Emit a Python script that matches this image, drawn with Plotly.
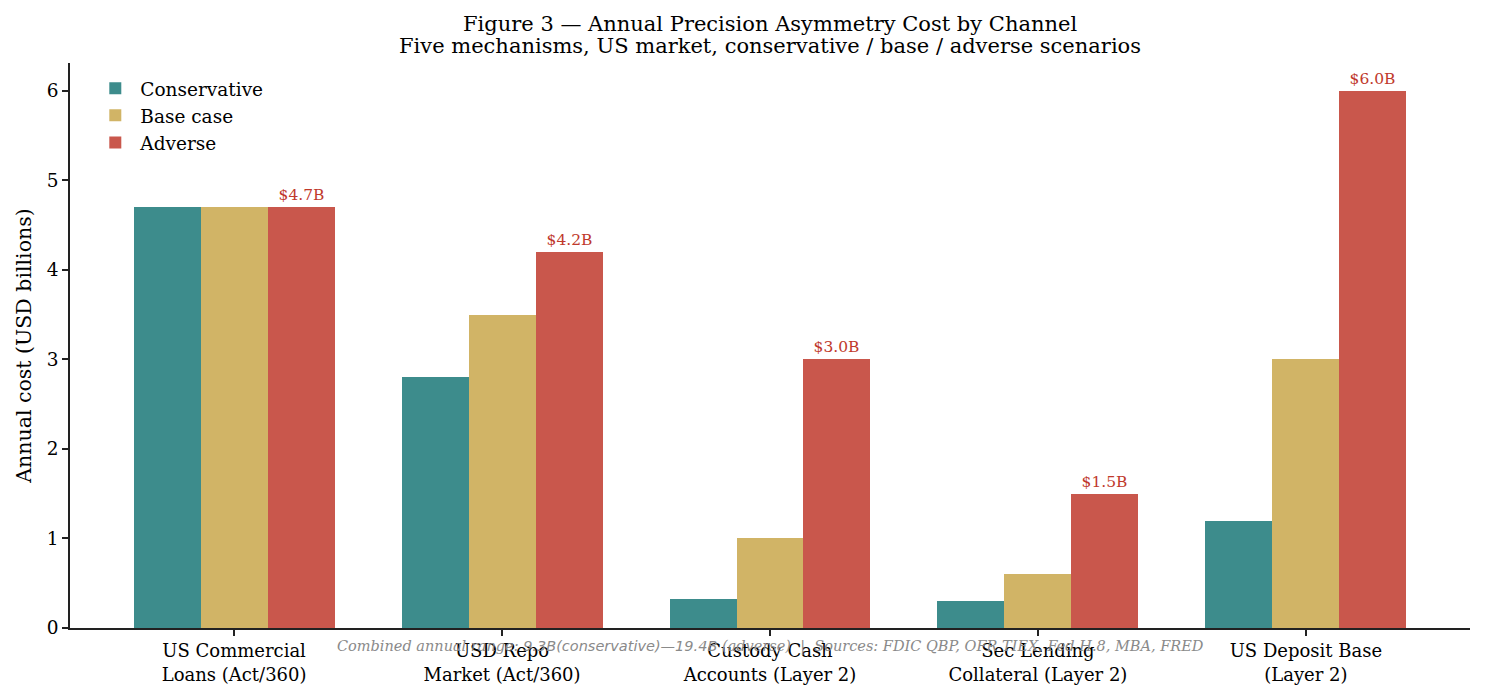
import plotly.graph_objects as go

categories = ["US Commercial<br>Loans (Act/360)", "USD Repo<br>Market (Act/360)",
              "Custody Cash<br>Accounts (Layer 2)", "Sec Lending<br>Collateral (Layer 2)",
              "US Deposit Base<br>(Layer 2)"]
conservative = [4.7, 2.8, 0.32, 0.3, 1.2]
base_case = [4.7, 3.5, 1.0, 0.6, 3.0]
adverse = [4.7, 4.2, 3.0, 1.5, 6.0]
adverse_labels = ["$%.1fB" % v for v in adverse]
y_ticks = [0, 1, 2, 3, 4, 5, 6]

SERIF = "DejaVu Serif"
x_idx = list(range(len(categories)))

fig = go.Figure()
fig.add_trace(go.Bar(x=x_idx, y=conservative, name="Conservative", offset=-0.375, width=0.25,
                     marker=dict(color="#3d8c8c", line=dict(width=0))))
fig.add_trace(go.Bar(x=x_idx, y=base_case, name="Base case", offset=-0.125, width=0.25,
                     marker=dict(color="#d1b466", line=dict(width=0))))
fig.add_trace(go.Bar(x=x_idx, y=adverse, name="Adverse", offset=0.125, width=0.25,
                     marker=dict(color="#c9574c", line=dict(width=0)),
                     text=adverse_labels, textposition="outside", cliponaxis=False,
                     textfont=dict(family=SERIF, size=15.5, color="#c0392b")))

fig.update_layout(
    barmode="overlay",
    width=1485, height=697,
    margin=dict(l=70, r=15, t=63, b=69),
    paper_bgcolor="white", plot_bgcolor="white",
    font=dict(family=SERIF, size=18, color="black"),
    legend=dict(x=0.0145, y=0.988, xanchor="left", yanchor="top", bgcolor="rgba(255,255,255,0)",
                font=dict(family=SERIF, size=18.5), itemwidth=40, tracegroupgap=0),
    xaxis=dict(range=[-0.6125, 4.6125], tickmode="array", tickvals=x_idx, ticktext=categories,
               showline=True, linecolor="#222222", linewidth=1.5, ticks="outside", ticklen=6,
               tickwidth=1.5, tickcolor="#222222", showgrid=False, zeroline=False,
               tickfont=dict(family=SERIF, size=18)),
    yaxis=dict(range=[0, 6.31], tickmode="array", tickvals=y_ticks,
               showline=True, linecolor="#222222", linewidth=1.5, ticks="outside", ticklen=6,
               tickwidth=1.5, tickcolor="#222222", showgrid=False, zeroline=False,
               title=dict(text="Annual cost (USD billions)", font=dict(family=SERIF, size=20.5), standoff=10),
               tickfont=dict(family=SERIF, size=18.5)),
    bargap=0,
)

title_lines = ["Figure 3 — Annual Precision Asymmetry Cost by Channel",
               "Five mechanisms, US market, conservative / base / adverse scenarios"]
for line, yy in zip(title_lines, [1.069, 1.030]):
    fig.add_annotation(text=line, xref="paper", yref="paper", x=0.5, y=yy,
                       xanchor="center", yanchor="middle", showarrow=False,
                       font=dict(family=SERIF, size=21, color="black"))

footnote = ("<i>Combined annual range: </i>"
            "<span style=\"font-family:'DejaVu Sans'\"><i>9.3B(conservative)—19.4B</i></span>"
            "<i> (adverse)  |  Sources: FDIC QBP, OFR TIEX, Fed H.8, MBA, FRED</i>")
fig.add_annotation(text=footnote, xref="paper", yref="paper", x=0.5, y=-0.032,
                   xanchor="center", yanchor="middle", showarrow=False,
                   font=dict(family=SERIF, size=14.5, color="#8a8a8a"))

fig.write_html("out.html")
